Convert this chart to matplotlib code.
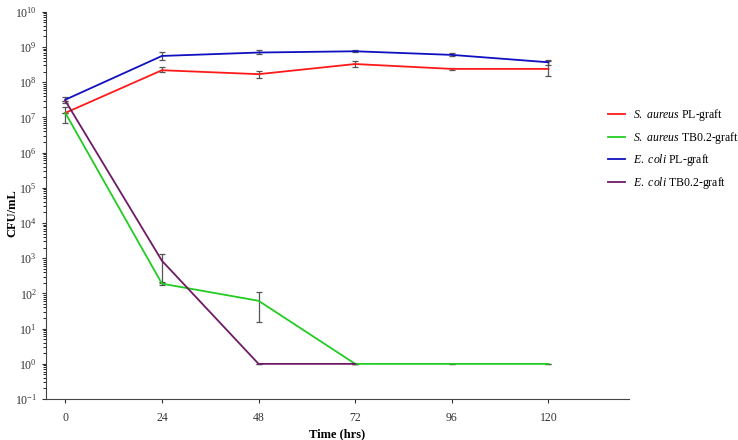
import numpy as np
import matplotlib
matplotlib.use('Agg')
import matplotlib.pyplot as plt

plt.rcParams['font.family'] = ['Liberation Serif', 'DejaVu Serif']
plt.rcParams['mathtext.fontset'] = 'custom'
plt.rcParams['mathtext.rm'] = 'Liberation Serif'
plt.rcParams['mathtext.it'] = 'Liberation Serif:italic'
plt.rcParams['mathtext.bf'] = 'Liberation Serif:bold'

# Time points (hrs)
hours = [0, 24, 48, 72, 96, 120]

# S. aureus PL-graft
sa_pl = [1.35e7, 2.2e8, 1.7e8, 3.3e8, 2.4e8, 2.4e8]
sa_pl_lo = [7.0e6, 1.9e8, 1.35e8, 2.7e8, 2.2e8, 1.5e8]
sa_pl_hi = [2.0e7, 2.7e8, 2.1e8, 3.9e8, 2.6e8, 4.0e8]

# S. aureus TB0.2-graft
sa_tb = [1.35e7, 190, 62, 1, 1, 1]
sa_tb_lo = [1.35e7, 170, 15, 1, 1, 1]
sa_tb_hi = [1.35e7, 210, 112, 1, 1, 1]

# E. coli PL-graft
ec_pl = [3.2e7, 5.6e8, 7.0e8, 7.6e8, 6.0e8, 3.7e8]
ec_pl_lo = [2.6e7, 4.3e8, 6.3e8, 7.2e8, 5.5e8, 3.1e8]
ec_pl_hi = [3.9e7, 7.2e8, 8.1e8, 8.0e8, 7.0e8, 4.3e8]

# E. coli TB0.2-graft (ends at 72 h)
ec_tb_hours = [0, 24, 48, 72]
ec_tb = [3.0e7, 850, 1, 1]
ec_tb_lo = [3.0e7, 200, 1, 1]
ec_tb_hi = [3.0e7, 1300, 1, 1]

series = [
    (hours, sa_pl, sa_pl_lo, sa_pl_hi, '#ff1a1a', r'$\it{S.}$ $\it{aureus}$ PL-graft'),
    (hours, sa_tb, sa_tb_lo, sa_tb_hi, '#22cc22', r'$\it{S.}$ $\it{aureus}$ TB0.2-graft'),
    (hours, ec_pl, ec_pl_lo, ec_pl_hi, '#1010c0', r'$\it{E.}$ $\it{coli}$ PL-graft'),
    (ec_tb_hours, ec_tb, ec_tb_lo, ec_tb_hi, '#6e1a66', r'$\it{E.}$ $\it{coli}$ TB0.2-graft'),
]

fig = plt.figure(figsize=(7.38, 4.4), dpi=100)
ax = fig.add_axes([0.0623, 0.093, 0.79, 0.88])

for x, y, lo, hi, color, label in series:
    y = np.array(y)
    yerr = [y - np.array(lo), np.array(hi) - y]
    ax.errorbar(x, y, yerr=yerr, fmt='none', ecolor='#555555', elinewidth=0.9,
                capsize=2, capthick=0.9, zorder=1)
    ax.plot(x, y, color=color, lw=1.3, label=label, zorder=2)

ax.set_yscale('log')
ax.set_ylim(1e-1, 1e10)
ax.set_xlim(-4.8, 140)
ax.set_xticks(hours)
ax.spines['top'].set_visible(False)
ax.spines['right'].set_visible(False)
ax.spines['left'].set_color('#444444')
ax.spines['bottom'].set_color('#444444')
ax.tick_params(axis='both', labelsize=8.5, colors='#333333', length=3, width=0.8)
ax.tick_params(axis='x', pad=6)
ax.tick_params(axis='y', which='minor', length=2, width=0.6)
ax.yaxis.set_major_locator(matplotlib.ticker.LogLocator(base=10, numticks=20))
ax.yaxis.set_minor_locator(matplotlib.ticker.LogLocator(base=10, subs=np.arange(2, 10), numticks=20))

ax.set_xlabel('Time (hrs)', fontsize=9, fontweight='bold')
ax.set_ylabel('CFU/mL', fontsize=9, fontweight='bold')
ax.yaxis.set_label_coords(-0.047, 0.48)
ax.xaxis.set_label_coords(0.5, -0.075)

fig.legend(loc='upper left', bbox_to_anchor=(0.81, 0.78), frameon=False,
           fontsize=8.5, handlelength=1.4, handletextpad=0.7, labelspacing=0.55)

fig.savefig('out.png', dpi=100)
